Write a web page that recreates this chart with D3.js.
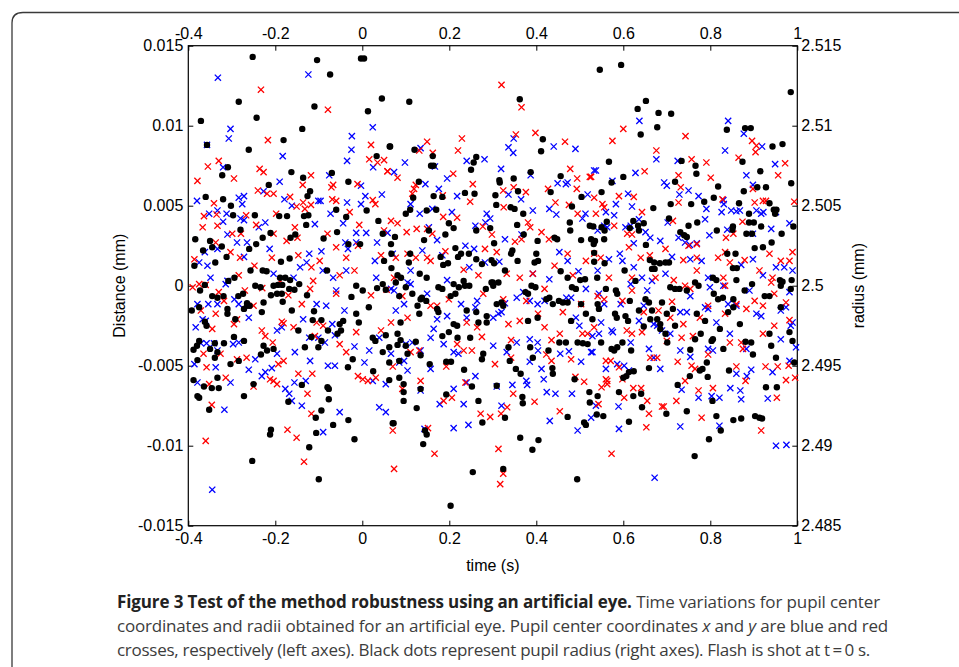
<!DOCTYPE html>
<html><head><meta charset="utf-8">
<script src="https://cdn.jsdelivr.net/npm/d3@7"></script>
<style>html,body{margin:0;padding:0;background:#fff;}svg{display:block;}</style>
</head><body>
<svg id="chart" width="959" height="667"></svg>
<script>
// ---- data: [time (s), value] ----
// pupil centre x (blue crosses), micrometres
const blueX = [[-0.332,13.0],[-0.124,13.2],[-0.303,9.8],[-0.307,9.2],[-0.357,8.8],[-0.183,8.1],[0.024,9.9],[-0.024,9.35],[-0.025,8.5],[-0.035,7.8],[0.025,7.4],[-0.32,7.4],[-0.19,6.5],[-0.076,6.9],[-0.003,6.25],[0.045,5.7],[0.007,5.6],[-0.38,5.3],[-0.284,5.5],[-0.272,5.6],[-0.276,5.1],[-0.227,5.9],[-0.179,5.4],[-0.162,5.0],[-0.101,5.3],[-0.096,5.3],[-0.035,5.2],[-0.003,5.1],[-0.352,4.5],[-0.312,4.5],[-0.333,4.7],[-0.32,4.0],[-0.28,4.2],[-0.272,4.1],[-0.238,3.65],[-0.223,3.95],[-0.109,3.85],[-0.073,4.5],[-0.044,3.9],[-0.014,3.3],[0.009,3.3],[0.034,2.7],[-0.31,3.2],[-0.288,2.7],[-0.265,2.7],[-0.362,2.1],[-0.333,2.3],[-0.213,2.3],[-0.122,2.0],[-0.094,2.15],[-0.039,2.7],[-0.033,2.3],[-0.014,2.7],[0.029,1.55],[-0.375,1.45],[-0.356,1.25],[-0.272,1.8],[-0.143,1.15],[-0.128,1.45],[-0.091,0.95],[-0.204,0.75],[-0.349,0.5],[-0.31,0.3],[-0.158,0.5],[-0.067,0.5],[-0.037,0.95],[0.032,0.5],
[0.348,9.2],[0.336,8.65],[0.347,8.3],[0.44,8.7],[0.49,8.55],[0.134,8.6],[0.098,7.7],[0.073,7.1],[0.167,7.45],[0.24,7.8],[0.281,7.9],[0.319,7.3],[0.387,6.9],[0.145,6.35],[0.195,6.7],[0.176,6.05],[0.218,5.6],[0.336,5.7],[0.365,5.4],[0.449,6.4],[0.468,6.35],[0.472,6.45],[0.518,5.7],[0.533,7.2],[0.111,5.1],[0.132,4.5],[0.161,4.8],[0.206,4.6],[0.286,4.5],[0.294,4.2],[0.283,3.95],[0.26,3.75],[0.328,2.9],[0.366,3.2],[0.392,4.7],[0.43,4.8],[0.446,4.45],[0.513,4.5],[0.506,4.2],[0.153,3.65],[0.172,2.85],[0.237,2.5],[0.257,2.3],[0.138,2.2],[0.184,1.9],[0.246,1.15],[0.282,1.45],[0.315,1.5],[0.453,2.1],[0.472,1.55],[0.497,0.9],[0.111,0.95],[0.195,0.35],[0.392,0.75],[0.43,0.4],[0.07,2.0],[0.058,3.3],
[0.637,10.3],[0.841,10.3],[0.877,9.5],[0.834,8.45],[0.919,8.7],[0.676,7.9],[0.725,7.8],[0.537,7.2],[0.628,7.05],[0.575,6.55],[0.694,6.45],[0.7,6.25],[0.883,6.9],[0.898,6.3],[0.949,7.6],[0.611,5.75],[0.583,5.1],[0.62,4.95],[0.729,5.7],[0.75,5.95],[0.773,5.6],[0.791,4.8],[0.83,5.35],[0.831,5.1],[0.826,4.6],[0.848,4.7],[0.86,4.65],[0.868,4.7],[0.906,4.7],[0.917,4.5],[0.922,4.6],[0.951,4.6],[0.56,4.6],[0.541,3.45],[0.556,3.75],[0.563,3.65],[0.579,4.4],[0.605,3.65],[0.617,3.75],[0.636,4.15],[0.624,2.65],[0.651,3.35],[0.662,3.0],[0.685,2.8],[0.702,3.95],[0.727,3.0],[0.742,2.7],[0.753,2.55],[0.769,2.65],[0.798,3.15],[0.788,4.15],[0.839,3.5],[0.898,3.25],[0.94,3.55],[0.982,3.9],[0.592,2.0],[0.598,1.55],[0.567,1.65],[0.712,1.8],[0.754,1.65],[0.78,1.55],[0.871,1.3],[0.898,1.65],[0.951,1.15],[0.97,1.15],[0.989,0.95],[0.541,0.95],[0.624,1.15],[0.643,0.5],[0.697,0.75],[0.795,0.5],[0.921,0.65],[0.666,0.3],
[-0.379,-1.15],[-0.354,-1.15],[-0.333,-1.15],[-0.383,-2.6],[-0.367,-2.1],[-0.36,-2.2],[-0.371,-3.6],[-0.358,-3.6],[-0.341,-3.6],[-0.333,-4.05],[-0.386,-4.9],[-0.337,-5.1],[-0.379,-6.05],[-0.303,-6.05],[-0.297,-3.65],[-0.284,-3.55],[-0.261,-5.25],[-0.246,-4.6],[-0.231,-5.65],[-0.223,-5.4],[-0.208,-5.15],[-0.294,-0.85],[-0.284,-1.15],[-0.261,-2.0],[-0.196,-2.8],[-0.185,-2.6],[-0.196,-4.25],[-0.155,-4.15],[-0.177,-6.45],[-0.168,-6.75],[-0.162,-7.2],[-0.156,-6.05],[-0.139,-7.5],[-0.13,-5.95],[-0.12,-4.7],[-0.122,-3.25],[-0.101,-3.25],[-0.086,-3.55],[-0.079,-5.0],[-0.063,-5.0],[-0.052,-7.9],[-0.09,-9.15],[-0.136,-2.1],[-0.105,-1.15],[-0.083,-1.25],[-0.069,-2.4],[-0.063,-3.1],[-0.041,-1.55],[-0.018,-3.8],[0.005,-4.8],[0.016,-4.05],[0.024,-5.95],[0.039,-7.6],[0.054,-7.9],[0.054,-6.15],[0.039,-3.25],[-0.317,-7.75],[-0.345,-12.75],[-0.314,0.1],[-0.06,-0.3],
[0.21,-8.9],[0.244,-8.7],[0.143,-8.95],[0.431,-8.45],[0.495,-9.05],[0.526,-8.25],[0.32,-7.5],[0.233,-7.4],[0.178,-7.4],[0.134,-6.55],[0.309,-6.3],[0.345,-6.2],[0.377,-5.95],[0.379,-6.2],[0.424,-6.65],[0.444,-6.75],[0.482,-6.75],[0.26,-5.65],[0.24,-6.05],[0.21,-6.45],[0.417,-5.85],[0.412,-5.2],[0.385,-4.75],[0.503,-4.75],[0.475,-4.1],[0.455,-4.25],[0.404,-4.05],[0.332,-4.15],[0.301,-3.75],[0.355,-3.55],[0.385,-3.35],[0.403,-3.55],[0.526,-4.15],[0.157,-5.2],[0.104,-5.3],[0.096,-4.7],[0.085,-4.8],[0.066,-4.25],[0.1,-3.65],[0.115,-3.55],[0.134,-4.05],[0.187,-3.65],[0.21,-4.15],[0.221,-4.25],[0.157,-3.25],[0.164,-2.7],[0.172,-2.1],[0.195,-1.9],[0.227,-1.15],[0.264,-0.95],[0.26,-1.35],[0.24,-2.0],[0.301,-2.0],[0.313,-1.75],[0.32,-1.65],[0.328,-1.1],[0.355,-0.75],[0.37,-0.4],[0.385,-0.95],[0.403,-1.15],[0.419,-0.95],[0.469,-0.75],[0.48,-0.75],[0.491,-2.0],[0.499,-2.5],[0.077,-1.55],[0.096,-1.15],[0.066,-0.2],[0.073,-0.3],[0.149,-0.5],[0.104,0.2],[0.111,0.1],[0.514,-0.2],
[0.672,-12.0],[0.951,-10.0],[0.975,-9.95],[0.731,-8.8],[0.821,-8.75],[0.59,-8.95],[0.589,-7.55],[0.537,-7.5],[0.773,-7.0],[0.803,-6.9],[0.821,-7.0],[0.871,-7.1],[0.932,-7.05],[0.734,-6.5],[0.846,-6.4],[0.869,-6.55],[0.613,-5.3],[0.602,-5.0],[0.56,-5.2],[0.586,-4.9],[0.685,-5.2],[0.67,-4.5],[0.659,-3.95],[0.731,-4.05],[0.754,-4.45],[0.806,-4.05],[0.795,-3.95],[0.86,-5.5],[0.884,-5.65],[0.894,-5.25],[0.943,-5.4],[0.982,-4.7],[0.997,-3.85],[0.962,-3.35],[0.985,-2.5],[0.989,-2.3],[0.883,-3.95],[0.845,-3.0],[0.814,-2.3],[0.788,-1.35],[0.795,-1.45],[0.746,-1.65],[0.731,-1.65],[0.708,-3.0],[0.689,-2.8],[0.678,-2.5],[0.67,-2.4],[0.647,-1.25],[0.636,-2.2],[0.617,-3.55],[0.594,-1.15],[0.573,-2.8],[0.576,-2.9],[0.549,-2.3],[0.544,-3.0],[0.529,-3.15],[0.556,-1.15],[0.529,-4.15],[0.544,-0.5],[0.655,-0.3],[0.754,-0.65],[0.841,-1.15],[0.86,-1.25],[0.906,-1.75],[0.917,-1.9],[0.962,-1.55],[0.974,-1.35],[0.982,-0.4],[0.89,-0.3],[0.83,0.0],[0.799,-0.1],[0.617,0.1]];

// pupil centre y (red crosses), micrometres
const redY = [[-0.233,12.25],[-0.079,11.0],[-0.217,9.1],[0.02,8.8],[-0.379,6.55],[-0.355,7.45],[-0.33,7.8],[-0.295,6.7],[-0.236,7.3],[-0.227,7.1],[-0.24,5.95],[-0.219,5.75],[-0.204,5.75],[-0.137,6.3],[-0.118,6.9],[-0.067,6.3],[-0.071,6.15],[-0.011,6.35],[0.016,7.9],[0.035,7.7],[0.05,7.85],[0.058,7.15],[-0.341,5.15],[-0.364,4.35],[-0.335,4.45],[-0.267,4.4],[-0.198,4.5],[-0.166,5.55],[-0.151,4.95],[-0.136,5.2],[-0.132,4.8],[-0.118,5.05],[-0.069,5.4],[-0.06,5.3],[-0.029,4.6],[0.024,5.35],[0.03,5.1],[-0.367,3.65],[-0.333,3.75],[-0.299,3.25],[-0.279,3.25],[-0.244,3.8],[-0.204,3.25],[-0.155,3.65],[-0.174,2.8],[-0.149,3.0],[-0.08,3.25],[-0.06,2.4],[-0.007,3.8],[-0.01,2.5],[0.05,3.45],[0.066,4.05],[-0.386,1.65],[-0.337,2.7],[-0.303,2.1],[-0.281,1.75],[-0.248,1.25],[-0.208,1.75],[-0.147,1.9],[-0.117,1.15],[-0.098,1.55],[-0.037,1.75],[-0.018,0.95],[-0.052,0.65],[0.043,1.9],[-0.284,0.65],[-0.189,0.3],[-0.113,0.3],[-0.375,0.1],
[0.32,12.55],[0.366,11.15],[0.149,9.0],[0.229,9.2],[0.22,8.45],[0.131,8.45],[0.162,8.3],[0.353,9.45],[0.398,9.55],[0.466,9.0],[0.058,7.15],[0.081,6.75],[0.209,7.0],[0.254,6.35],[0.119,6.05],[0.115,5.75],[0.123,6.3],[0.185,5.65],[0.248,5.25],[0.324,5.95],[0.348,6.15],[0.376,5.85],[0.478,7.3],[0.494,6.7],[0.523,6.8],[0.493,6.05],[0.427,6.05],[0.444,5.2],[0.475,5.05],[0.081,3.9],[0.102,3.35],[0.125,3.55],[0.186,4.3],[0.218,4.25],[0.149,3.55],[0.161,3.25],[0.277,3.7],[0.298,3.2],[0.325,4.9],[0.351,2.75],[0.366,2.9],[0.381,3.95],[0.386,3.65],[0.412,3.35],[0.429,2.9],[0.495,4.5],[0.077,1.75],[0.104,2.0],[0.123,1.75],[0.149,1.75],[0.157,1.55],[0.191,2.15],[0.233,1.0],[0.267,0.65],[0.282,2.3],[0.309,2.1],[0.332,0.75],[0.362,0.5],[0.392,0.75],[0.442,1.25],[0.472,2.0],[0.514,1.55],[0.484,0.65],[0.073,0.5],
[0.6,9.8],[0.575,9.05],[0.743,9.35],[0.676,8.45],[0.757,7.9],[0.791,7.7],[0.649,7.15],[0.727,6.9],[0.801,6.75],[0.896,9.05],[0.906,8.75],[0.904,8.35],[0.865,8.0],[0.972,7.65],[0.956,6.9],[0.526,6.8],[0.533,5.5],[0.552,5.1],[0.556,4.9],[0.59,5.6],[0.624,5.55],[0.643,4.6],[0.537,4.5],[0.727,5.2],[0.732,6.15],[0.828,5.4],[0.898,6.05],[0.902,5.2],[0.921,5.3],[0.928,5.3],[0.993,5.25],[0.874,4.0],[0.714,4.05],[0.579,3.75],[0.609,3.25],[0.62,3.2],[0.836,3.0],[0.853,3.25],[0.697,2.3],[0.75,2.5],[0.769,2.6],[0.613,2.4],[0.533,2.0],[0.64,1.75],[0.661,1.9],[0.548,1.75],[0.738,1.6],[0.769,1.75],[0.818,1.75],[0.834,2.1],[0.845,1.45],[0.879,1.6],[0.936,2.0],[0.962,1.55],[0.982,1.55],[0.989,2.1],[0.913,0.95],[0.567,0.5],[0.62,0.5],[0.674,0.5],[0.716,0.35],[0.769,0.95],[0.83,0.5],[0.943,0.5],
[-0.39,-0.1],[-0.371,-1.55],[-0.337,-1.75],[-0.345,-2.7],[-0.295,-2.4],[-0.288,-2.1],[-0.318,-0.95],[-0.25,-1.25],[-0.231,-2.8],[-0.223,-3.15],[-0.206,-3.55],[-0.185,-2.25],[-0.181,-2.35],[-0.158,-2.6],[-0.139,-1.15],[-0.105,-2.3],[-0.09,-2.5],[-0.109,-3.15],[-0.052,-3.65],[-0.037,-4.15],[-0.014,-2.9],[0.043,-2.8],[0.056,-0.25],[-0.365,-4.25],[-0.326,-4.25],[-0.358,-5.1],[-0.288,-4.6],[-0.266,-4.5],[-0.314,-5.75],[-0.352,-6.15],[-0.212,-5.85],[-0.204,-5.95],[-0.196,-6.15],[-0.25,-6.3],[-0.193,-4.9],[-0.181,-4.7],[-0.147,-5.5],[-0.115,-5.5],[-0.126,-6.75],[-0.01,-5.65],[0.001,-5.85],[0.013,-5.95],[0.031,-5.75],[-0.117,-8.0],[-0.346,-7.45],[-0.36,-9.7],[-0.172,-9.0],[-0.151,-9.5],[-0.134,-11.0],[-0.36,0.05],[-0.33,-0.4],[-0.27,-0.3],[-0.23,-0.15],[-0.17,-0.6],[-0.12,-0.2],[-0.06,-0.5],[0.02,-0.6],
[0.073,-11.45],[0.166,-10.5],[0.151,-8.9],[0.07,-9.05],[0.313,-10.2],[0.324,-11.75],[0.317,-12.4],[0.272,-8.0],[0.294,-8.2],[0.319,-8.0],[0.333,-7.6],[0.454,-7.85],[0.347,-6.75],[0.396,-7.25],[0.206,-7.0],[0.187,-7.2],[0.092,-6.45],[0.134,-5.95],[0.237,-6.05],[0.305,-4.9],[0.193,-5.05],[0.07,-5.05],[0.111,-4.15],[0.131,-4.05],[0.218,-3.65],[0.233,-4.05],[0.252,-4.05],[0.275,-3.2],[0.264,-2.6],[0.342,-3.4],[0.342,-4.5],[0.435,-3.4],[0.423,-4.3],[0.435,-4.7],[0.454,-3.0],[0.506,-3.0],[0.518,-3.0],[0.49,-5.7],[0.51,-6.0],[0.48,-4.6],[0.24,-2.3],[0.172,-1.25],[0.199,-0.85],[0.157,-1.25],[0.104,-2.0],[0.066,-2.3],[0.092,-0.65],[0.336,-2.4],[0.362,-2.2],[0.404,-1.75],[0.419,-2.6],[0.461,-1.65],[0.503,-1.15],[0.278,-0.5],[0.324,-0.85],[0.377,-0.95],[0.419,-0.2],
[0.573,-10.5],[0.917,-9.05],[0.653,-8.85],[0.659,-8.0],[0.689,-7.55],[0.693,-7.55],[0.655,-7.2],[0.78,-8.25],[0.722,-7.2],[0.773,-6.55],[0.806,-6.4],[0.953,-7.0],[0.602,-7.0],[0.623,-6.4],[0.641,-6.4],[0.55,-6.35],[0.563,-6.15],[0.543,-7.4],[0.56,-4.7],[0.571,-4.7],[0.56,-5.85],[0.563,-5.95],[0.598,-5.85],[0.59,-5.1],[0.662,-4.5],[0.678,-4.5],[0.725,-4.75],[0.742,-5.95],[0.757,-5.0],[0.765,-5.2],[0.795,-4.3],[0.86,-5.05],[0.881,-5.95],[0.927,-5.05],[0.955,-5.05],[0.974,-5.9],[0.995,-5.75],[0.98,-5.0],[0.643,-2.9],[0.608,-2.8],[0.62,-3.0],[0.7,-3.45],[0.734,-3.25],[0.76,-3.15],[0.845,-3.55],[0.875,-3.95],[0.871,-3.55],[0.921,-3.0],[0.947,-2.5],[0.982,-2.15],[0.974,-1.05],[0.921,-1.25],[0.883,-1.45],[0.902,-0.95],[0.86,-1.15],[0.834,-1.75],[0.795,-1.25],[0.776,-2.0],[0.738,-2.4],[0.708,-2.0],[0.681,-1.55],[0.647,-1.65],[0.62,-0.3],[0.598,-0.95],[0.556,-0.85],[0.541,-0.65],[0.533,-2.6],[0.712,-1.0],[0.742,0.0],[0.754,-0.2],[0.834,0.0],[0.94,0.2],[0.947,-0.5]];

// pupil radius (black dots), micrometres
const blackR = [[-0.252,2514.3],[-0.104,2514.1],[-0.074,2513.2],[0.004,2514.2],[-0.003,2514.2],[-0.284,2511.5],[-0.371,2510.3],[-0.243,2510.5],[-0.11,2511.2],[0.013,2510.9],[0.045,2511.7],[-0.138,2509.8],[-0.181,2509.1],[-0.261,2508.5],[-0.357,2508.8],[0.033,2508.1],[0.063,2508.7],[-0.309,2507.4],[-0.322,2506.9],[-0.163,2507.1],[-0.136,2506.75],[-0.07,2507.05],[-0.032,2506.5],[-0.215,2506.3],[-0.12,2505.9],[-0.126,2505.6],[-0.36,2505.55],[-0.32,2505.4],[-0.302,2505.0],[0.01,2504.7],[-0.191,2504.35],[-0.173,2504.35],[-0.134,2504.35],[-0.124,2504.4],[-0.247,2504.4],[-0.297,2504.4],[-0.06,2504.75],[0.037,2504.05],[-0.037,2504.3],[-0.129,2503.8],[-0.211,2503.3],[-0.229,2503.0],[-0.058,2503.35],[-0.165,2503.0],[-0.154,2503.2],[-0.384,2502.9],[-0.35,2502.8],[-0.366,2502.2],[-0.28,2503.5],[-0.26,2502.3],[-0.244,2502.6],[-0.323,2502.45],[-0.345,2502.4],[-0.312,2501.8],[-0.338,2501.45],[-0.187,2501.5],[-0.167,2501.7],[-0.089,2502.95],[-0.032,2502.6],[-0.005,2502.6],[0.05,2501.55],[0.047,2503.25],[-0.386,2501.25],[-0.257,2500.95],[-0.229,2500.95],[-0.22,2500.9],[-0.294,2500.5],[-0.308,2500.3],[-0.189,2500.5],[-0.177,2500.5],[-0.166,2500.35],[-0.081,2500.95],
[0.108,2511.5],[0.362,2511.65],[0.064,2508.7],[0.12,2508.5],[0.162,2508.1],[0.158,2507.5],[0.164,2507.5],[0.415,2509.15],[0.411,2508.4],[0.262,2508.05],[0.256,2507.7],[0.25,2507.25],[0.387,2507.1],[0.456,2506.85],[0.13,2506.5],[0.315,2506.6],[0.316,2506.45],[0.348,2506.7],[0.236,2505.8],[0.258,2505.75],[0.164,2505.6],[0.117,2505.5],[0.306,2505.65],[0.358,2505.9],[0.433,2505.85],[0.504,2505.55],[0.184,2505.55],[0.308,2505.05],[0.341,2504.9],[0.35,2504.8],[0.37,2504.5],[0.482,2504.95],[0.1,2504.5],[0.11,2504.75],[0.148,2504.7],[0.17,2504.75],[0.199,2503.9],[0.191,2503.2],[0.21,2503.6],[0.262,2503.45],[0.294,2503.6],[0.075,2503.05],[0.142,2502.85],[0.153,2503.45],[0.356,2503.8],[0.371,2503.2],[0.403,2502.8],[0.442,2503.0],[0.448,2502.9],[0.477,2503.95],[0.478,2503.45],[0.503,2502.85],[0.523,2503.75],[0.526,2502.9],[0.535,2502.8],[0.066,2502.6],[0.303,2502.65],[0.214,2502.35],[0.227,2502.0],[0.22,2501.8],[0.18,2501.8],[0.186,2501.3],[0.197,2501.4],[0.245,2502.0],[0.262,2501.65],[0.275,2501.35],[0.297,2501.6],[0.303,2501.4],[0.345,2502.2],[0.342,2502.0],[0.328,2500.95],[0.357,2501.55],[0.4,2502.0],[0.404,2501.55],[0.396,2501.45],[0.456,2500.9],[0.472,2500.5],[0.501,2500.35],[0.512,2500.4],[0.067,2502.0],[0.11,2502.0],[0.107,2501.45],[0.081,2500.65],[0.089,2500.5],[0.132,2500.75],[0.067,2501.1],[0.233,2500.3],[0.3,2500.2],[0.313,2500.2],[0.148,2500.5],
[0.546,2513.5],[0.595,2513.8],[0.985,2512.1],[0.652,2511.55],[0.633,2511.05],[0.681,2510.8],[0.71,2510.75],[0.64,2509.45],[0.678,2509.9],[0.838,2509.75],[0.88,2509.85],[0.893,2509.85],[0.943,2508.7],[0.966,2508.85],[0.567,2507.75],[0.734,2507.8],[0.766,2507.5],[0.768,2507.0],[0.874,2507.75],[0.915,2507.15],[0.6,2506.8],[0.573,2506.45],[0.719,2506.5],[0.818,2506.2],[0.986,2506.4],[0.55,2505.85],[0.877,2505.9],[0.908,2506.15],[0.928,2506.15],[0.808,2505.5],[0.786,2505.25],[0.669,2504.85],[0.709,2505.1],[0.756,2505.1],[0.866,2505.15],[0.889,2504.5],[0.936,2505.15],[0.946,2504.75],[0.952,2504.75],[0.949,2504.5],[0.705,2504.2],[0.77,2503.95],[0.889,2503.95],[0.9,2503.95],[0.917,2503.7],[0.852,2503.7],[0.75,2503.75],[0.623,2504.05],[0.634,2503.75],[0.647,2503.9],[0.636,2503.45],[0.615,2503.6],[0.562,2504.0],[0.557,2503.45],[0.55,2503.65],[0.531,2503.7],[0.815,2503.45],[0.851,2503.5],[0.883,2503.25],[0.896,2503.25],[0.964,2503.25],[0.991,2503.7],[0.731,2503.35],[0.74,2503.15],[0.746,2503.05],[0.556,2502.9],[0.652,2502.55],[0.941,2502.7],[0.902,2502.35],[0.921,2502.4],[0.858,2502.0],[0.839,2502.0],[0.533,2502.05],[0.532,2502.6],[0.661,2501.6],[0.671,2501.45],[0.684,2501.4],[0.697,2501.45],[0.705,2501.45],[0.666,2501.05],[0.672,2501.05],[0.557,2501.4],[0.533,2501.5],[0.603,2500.95],[0.628,2500.3],[0.806,2500.5],[0.814,2500.35],[0.86,2500.35],[0.852,2501.1],[0.861,2501.1],[0.96,2500.35],[0.966,2500.25],[0.987,2500.35],[0.54,2500.5],
[-0.362,2500.05],[-0.373,2499.7],[-0.345,2499.35],[-0.333,2499.25],[-0.319,2499.35],[-0.285,2499.35],[-0.274,2499.5],[-0.265,2498.9],[-0.259,2498.75],[-0.227,2498.95],[-0.246,2500.0],[-0.234,2499.9],[-0.204,2500.0],[-0.194,2500.05],[-0.184,2500.05],[-0.196,2499.5],[-0.185,2499.5],[-0.21,2499.4],[-0.168,2499.8],[-0.156,2499.75],[-0.145,2500.1],[-0.127,2499.4],[-0.183,2499.0],[-0.162,2498.45],[-0.392,2498.45],[-0.375,2498.65],[-0.114,2497.85],[-0.111,2498.4],[-0.147,2497.2],[-0.295,2496.8],[-0.272,2496.55],[-0.227,2496.25],[-0.204,2496.05],[-0.117,2496.8],[-0.101,2496.15],[-0.132,2496.15],[-0.094,2496.55],[-0.375,2496.55],[-0.38,2496.25],[-0.339,2496.4],[-0.35,2496.05],[-0.388,2496.0],[-0.318,2496.4],[-0.333,2495.85],[-0.339,2495.5],[-0.379,2495.35],[-0.303,2495.1],[-0.284,2495.3],[-0.233,2495.7],[-0.219,2495.95],[-0.388,2494.1],[-0.364,2493.7],[-0.346,2493.6],[-0.33,2493.6],[-0.333,2494.25],[-0.379,2493.1],[-0.375,2493.0],[-0.352,2492.25],[-0.25,2493.85],[-0.272,2493.1],[-0.21,2491.0],[-0.212,2490.7],[-0.253,2489.05],[-0.17,2492.75],[-0.139,2493.8],[-0.08,2493.65],[-0.077,2493.55],[-0.077,2492.9],[-0.094,2492.2],[-0.107,2491.75],[-0.067,2491.3],[-0.032,2491.6],[-0.106,2490.8],[-0.122,2489.9],[-0.018,2490.4],[-0.1,2487.9],[-0.014,2498.25],[-0.008,2497.7],[0.015,2498.65],[0.024,2496.75],[0.03,2496.55],[0.07,2491.4],[-0.052,2497.6],[-0.044,2497.8],[-0.049,2497.2],[-0.057,2497.0],[-0.022,2495.4],[-0.033,2494.9],[0.047,2500.1],[0.054,2499.75],[0.025,2494.65],[0.047,2495.85],[0.054,2496.9],[0.034,2499.85],[0.001,2499.7],[-0.025,2499.3],[-0.014,2500.0],[-0.094,2497.85],[-0.079,2497.2],[-0.231,2498.35],[-0.272,2498.55],[-0.265,2498.75],[-0.31,2498.55],[-0.31,2498.25],[-0.292,2497.9],[-0.362,2497.75],[-0.358,2497.5],
[0.077,2500.2],[0.085,2499.35],[0.1,2499.9],[0.115,2499.5],[0.127,2498.75],[0.131,2498.25],[0.134,2499.15],[0.088,2497.7],[0.081,2497.0],[0.088,2496.6],[0.081,2496.3],[0.062,2496.15],[0.1,2496.25],[0.104,2495.75],[0.085,2495.3],[0.062,2495.2],[0.123,2496.5],[0.134,2495.65],[0.137,2499.25],[0.147,2499.05],[0.062,2494.1],[0.085,2494.25],[0.095,2493.85],[0.095,2493.35],[0.095,2492.8],[0.134,2493.55],[0.125,2492.35],[0.072,2491.4],[0.144,2490.95],[0.148,2490.7],[0.14,2490.1],[0.203,2486.25],[0.155,2495.1],[0.172,2498.55],[0.175,2498.35],[0.184,2496.85],[0.199,2497.1],[0.21,2497.6],[0.218,2497.5],[0.193,2495.25],[0.204,2495.25],[0.219,2496.75],[0.248,2496.75],[0.234,2494.75],[0.252,2493.7],[0.193,2493.2],[0.175,2499.9],[0.184,2499.8],[0.203,2499.35],[0.214,2499.5],[0.222,2499.9],[0.24,2498.45],[0.262,2498.35],[0.267,2497.7],[0.278,2495.75],[0.275,2495.4],[0.286,2497.7],[0.286,2498.1],[0.309,2498.85],[0.32,2498.95],[0.324,2498.75],[0.284,2499.8],[0.301,2500.0],[0.297,2500.2],[0.246,2500.0],[0.236,2500.0],[0.21,2500.1],[0.267,2492.8],[0.276,2491.45],[0.254,2488.35],[0.324,2488.55],[0.328,2491.75],[0.309,2493.75],[0.339,2495.3],[0.336,2496.15],[0.353,2494.8],[0.364,2494.5],[0.368,2493.05],[0.369,2492.65],[0.363,2490.5],[0.391,2489.75],[0.405,2490.35],[0.386,2496.15],[0.392,2495.5],[0.428,2495.95],[0.437,2494.85],[0.438,2494.5],[0.472,2491.8],[0.494,2487.9],[0.51,2491.45],[0.514,2491.3],[0.488,2494.15],[0.522,2493.35],[0.523,2492.7],[0.375,2499.6],[0.381,2499.5],[0.381,2497.8],[0.423,2499.15],[0.43,2499.25],[0.438,2498.85],[0.452,2499.05],[0.461,2498.95],[0.472,2498.95],[0.453,2496.45],[0.468,2496.45],[0.495,2496.45],[0.507,2496.4],[0.518,2496.35],[0.48,2497.8],[0.503,2498.85],[0.514,2498.25],[0.403,2498.0],[0.389,2500.0],[0.398,2499.9],[0.482,2499.9],[0.491,2499.8],
[0.541,2498.85],[0.544,2498.55],[0.529,2497.9],[0.549,2496.45],[0.539,2491.95],[0.554,2491.85],[0.541,2493.1],[0.56,2499.8],[0.583,2499.7],[0.586,2499.5],[0.581,2498.25],[0.585,2498.0],[0.605,2498.1],[0.611,2497.8],[0.598,2496.45],[0.573,2496.05],[0.579,2495.95],[0.586,2496.15],[0.618,2495.95],[0.6,2494.25],[0.607,2494.35],[0.613,2494.6],[0.624,2494.65],[0.59,2493.35],[0.623,2493.1],[0.641,2493.25],[0.643,2492.4],[0.613,2491.5],[0.615,2499.05],[0.636,2498.45],[0.651,2499.15],[0.659,2498.95],[0.666,2498.45],[0.662,2497.9],[0.678,2497.9],[0.647,2497.45],[0.685,2497.6],[0.659,2494.85],[0.685,2497.3],[0.697,2497.0],[0.701,2496.45],[0.719,2497.5],[0.725,2493.8],[0.699,2492.0],[0.746,2492.15],[0.753,2494.35],[0.754,2496.0],[0.765,2496.65],[0.778,2497.0],[0.776,2494.7],[0.782,2494.8],[0.792,2495.2],[0.794,2494.3],[0.805,2492.8],[0.797,2490.4],[0.764,2489.35],[0.814,2491.85],[0.824,2490.95],[0.822,2497.3],[0.83,2496.05],[0.803,2496.55],[0.806,2496.65],[0.769,2498.25],[0.788,2497.8],[0.729,2499.8],[0.746,2499.7],[0.773,2500.0],[0.765,2500.2],[0.808,2499.5],[0.818,2499.15],[0.829,2499.25],[0.853,2499.15],[0.853,2498.65],[0.841,2498.35],[0.868,2497.6],[0.881,2496.5],[0.894,2496.45],[0.898,2495.7],[0.843,2494.7],[0.853,2491.6],[0.871,2491.7],[0.903,2491.85],[0.913,2491.75],[0.919,2491.7],[0.928,2493.65],[0.953,2493.65],[0.936,2497.0],[0.94,2496.25],[0.951,2495.5],[0.982,2497.1],[0.989,2496.55],[0.993,2495.2],[0.962,2498.65],[0.925,2499.35],[0.936,2499.35],[0.962,2500.0],[0.985,2499.8],[0.896,2500.1],[0.879,2499.7],[0.708,2499.9],[0.719,2499.8],[0.689,2498.95],[0.714,2498.55],[0.7,2498.25]];

// ---- ticks ----
const xTicks = [-0.4, -0.2, 0, 0.2, 0.4, 0.6, 0.8, 1];
const xTickLabels = ["-0.4", "-0.2", "0", "0.2", "0.4", "0.6", "0.8", "1"];
const yLeftTicks = [-0.015, -0.01, -0.005, 0, 0.005, 0.01, 0.015];
const yLeftTickLabels = ["-0.015", "-0.01", "-0.005", "0", "0.005", "0.01", "0.015"];
const yRightTicks = [2.485, 2.49, 2.495, 2.5, 2.505, 2.51, 2.515];
const yRightTickLabels = ["2.485", "2.49", "2.495", "2.5", "2.505", "2.51", "2.515"];

const svg = d3.select("#chart");
const L = 188.3, R = 797.3, T = 45.7, B = 525.7;
const x = d3.scaleLinear().domain([-0.4, 1]).range([L, R]);
const yL = d3.scaleLinear().domain([-0.015, 0.015]).range([B, T]);
const yR = d3.scaleLinear().domain([2.485, 2.515]).range([B, T]);

// outer figure frame (rounded corner top-left)
svg.append("path")
  .attr("d", "M12,680 L12,23 Q12,12.5 23,12.5 L975,12.5")
  .attr("fill", "none").attr("stroke", "#3a3a3a").attr("stroke-width", 1.3);

const font = "'Liberation Sans', Arial, Helvetica, sans-serif";
const lab = (arr) => (d, i) => arr[i];

function styleAxis(g) {
  g.select(".domain").remove();
  g.selectAll(".tick line").attr("stroke", "#000").attr("stroke-width", 1);
  g.selectAll(".tick text").attr("fill", "#000").style("font-family", font).style("font-size", "16px");
}

const tickLen = 5;
svg.append("g").attr("transform", `translate(0,${B})`)
  .call(d3.axisBottom(x).tickValues(xTicks).tickFormat(lab(xTickLabels)).tickSizeInner(-tickLen).tickSizeOuter(0).tickPadding(7))
  .call(styleAxis);
svg.append("g").attr("transform", `translate(0,${T})`)
  .call(d3.axisTop(x).tickValues(xTicks).tickFormat(lab(xTickLabels)).tickSizeInner(-tickLen).tickSizeOuter(0).tickPadding(7))
  .call(styleAxis);
svg.append("g").attr("transform", `translate(${L},0)`)
  .call(d3.axisLeft(yL).tickValues(yLeftTicks).tickFormat(lab(yLeftTickLabels)).tickSizeInner(-tickLen).tickSizeOuter(0).tickPadding(5))
  .call(styleAxis);
svg.append("g").attr("transform", `translate(${R},0)`)
  .call(d3.axisRight(yR).tickValues(yRightTicks).tickFormat(lab(yRightTickLabels)).tickSizeInner(-tickLen).tickSizeOuter(0).tickPadding(4))
  .call(styleAxis);

// box
svg.append("rect").attr("x", L).attr("y", T).attr("width", R - L).attr("height", B - T)
  .attr("fill", "none").attr("stroke", "#000").attr("stroke-width", 1.2);

// markers
const plot = svg.append("g");
const cs = 3.1;
function crosses(data, color) {
  plot.append("g").selectAll("path").data(data).join("path")
    .attr("d", d => {
      const px = x(d[0]), py = yL(d[1] / 1000);
      return `M${px - cs},${py - cs}L${px + cs},${py + cs}M${px - cs},${py + cs}L${px + cs},${py - cs}`;
    })
    .attr("stroke", color).attr("stroke-width", 1.3).attr("fill", "none");
}
crosses(blueX, "#0000ff");
crosses(redY, "#ff0000");
plot.append("g").selectAll("circle").data(blackR).join("circle")
  .attr("cx", d => x(d[0])).attr("cy", d => yR(d[1] / 1000)).attr("r", 3.2).attr("fill", "#000");

// axis titles
svg.append("text").attr("transform", `translate(125,${(T + B) / 2}) rotate(-90)`)
  .attr("text-anchor", "middle").style("font-family", font).style("font-size", "16px").text("Distance (mm)");
svg.append("text").attr("transform", `translate(864,${(T + B) / 2}) rotate(-90)`)
  .attr("text-anchor", "middle").style("font-family", font).style("font-size", "16px").text("radius (mm)");
svg.append("text").attr("x", (L + R) / 2).attr("y", 571)
  .attr("text-anchor", "middle").style("font-family", font).style("font-size", "16px").text("time (s)");

// caption
const capFont = "'Open Sans', 'Noto Sans', sans-serif";
const cap = svg.append("g").style("font-family", capFont).style("font-size", "17px").attr("fill", "#3c3c3c");
function fitLine(t, target) {
  const nat = t.node().getComputedTextLength();
  const n = t.text().length;
  t.style("letter-spacing", ((target - nat) / n) + "px");
}
const l1 = cap.append("text").attr("x", 117).attr("y", 608);
l1.append("tspan").attr("font-weight", "bold").attr("fill", "#222").text("Figure 3 Test of the method robustness using an artificial eye.");
l1.append("tspan").text(" Time variations for pupil center");
fitLine(l1, 763);
const l2 = cap.append("text").attr("x", 117).attr("y", 632);
l2.append("tspan").text("coordinates and radii obtained for an artificial eye. Pupil center coordinates ");
l2.append("tspan").attr("font-style", "italic").text("x");
l2.append("tspan").text(" and ");
l2.append("tspan").attr("font-style", "italic").text("y");
l2.append("tspan").text(" are blue and red");
fitLine(l2, 771);
const l3 = cap.append("text").attr("x", 117).attr("y", 656);
l3.append("tspan").text("crosses, respectively (left axes). Black dots represent pupil radius (right axes). Flash is shot at t\u2009=\u20090 s.");
fitLine(l3, 753);
</script>
</body></html>
